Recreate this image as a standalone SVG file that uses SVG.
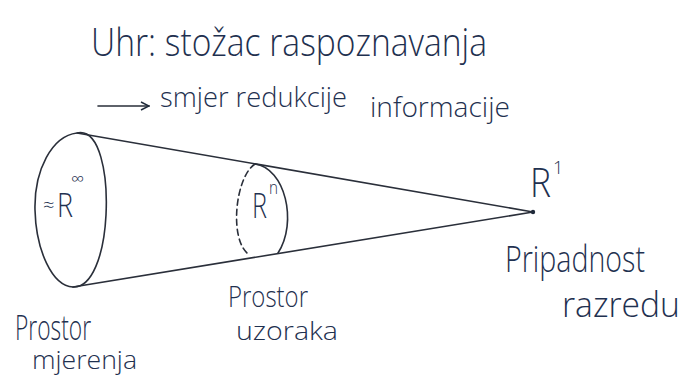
<svg xmlns="http://www.w3.org/2000/svg" width="682" height="383" viewBox="0 0 682 383">
<defs>
<style>
.t{font-family:"Open Sans","Liberation Sans",sans-serif;font-weight:300;fill:#1f3150}
.ln{fill:none;stroke:#2a2f3a;stroke-width:1.6;stroke-linecap:round;stroke-linejoin:round}
</style>
<marker id="ah" viewBox="0 0 10 10" refX="9" refY="5" markerWidth="10" markerHeight="10" markerUnits="userSpaceOnUse" orient="auto">
<path d="M1,1 L9,5 L1,9" fill="none" stroke="#1f2a3a" stroke-width="1.5"/>
</marker>
</defs>
<rect width="682" height="383" fill="#ffffff"/>
<g id="title">
<text class="t" x="91" y="56" font-size="38" textLength="396" lengthAdjust="spacingAndGlyphs">Uhr: stožac raspoznavanja</text>
</g>
<g id="direction">
<line class="ln" x1="98" y1="106" x2="149" y2="106" marker-end="url(#ah)"/>
<text class="t" x="160" y="107" font-size="28" textLength="187" lengthAdjust="spacingAndGlyphs">smjer redukcije</text>
<text class="t" x="370" y="117" font-size="28" textLength="140" lengthAdjust="spacingAndGlyphs">informacije</text>
</g>
<g id="connectors">
<path class="ln" d="M77,133 L533,212"/>
<path class="ln" d="M73,287 L533,212"/>
</g>
<g id="measurement-space">
<path class="ln" d="M77,133 C100,128 108,175 106,215 C104,255 92,288 73,287 C52,286 36,250 35,210 C34,170 52,136 77,133 Z"/>
<text class="t" x="43" y="212" font-size="20">≈</text>
<text class="t" x="57" y="217" font-size="33" textLength="16" lengthAdjust="spacingAndGlyphs">R</text>
<text class="t" x="71" y="185" font-size="18" textLength="13" lengthAdjust="spacingAndGlyphs">∞</text>
<text class="t" x="15" y="340" font-size="34" textLength="76" lengthAdjust="spacingAndGlyphs">Prostor</text>
<text class="t" x="32" y="369" font-size="26" textLength="105" lengthAdjust="spacingAndGlyphs">mjerenja</text>
</g>
<g id="sample-space">
<path class="ln" d="M255,164 C285,168 298,222 278,253"/>
<path class="ln" d="M255,164 C236,176 229,236 247,253" stroke-dasharray="6 4"/>
<text class="t" x="252" y="218" font-size="34" textLength="15" lengthAdjust="spacingAndGlyphs">R</text>
<text class="t" x="269" y="194" font-size="18" textLength="9" lengthAdjust="spacingAndGlyphs">n</text>
<text class="t" x="228" y="307" font-size="30" textLength="80" lengthAdjust="spacingAndGlyphs">Prostor</text>
<text class="t" x="236" y="340" font-size="26" textLength="102" lengthAdjust="spacingAndGlyphs">uzoraka</text>
</g>
<g id="class-membership">
<circle cx="533" cy="212" r="2.2" fill="#1f2a3a"/>
<text class="t" x="530" y="197" font-size="40" textLength="21" lengthAdjust="spacingAndGlyphs">R</text>
<text class="t" x="553" y="174" font-size="18">1</text>
<text class="t" x="505" y="272" font-size="37" textLength="140" lengthAdjust="spacingAndGlyphs">Pripadnost</text>
<text class="t" x="562" y="317" font-size="34" textLength="118" lengthAdjust="spacingAndGlyphs">razredu</text>
</g>
</svg>
